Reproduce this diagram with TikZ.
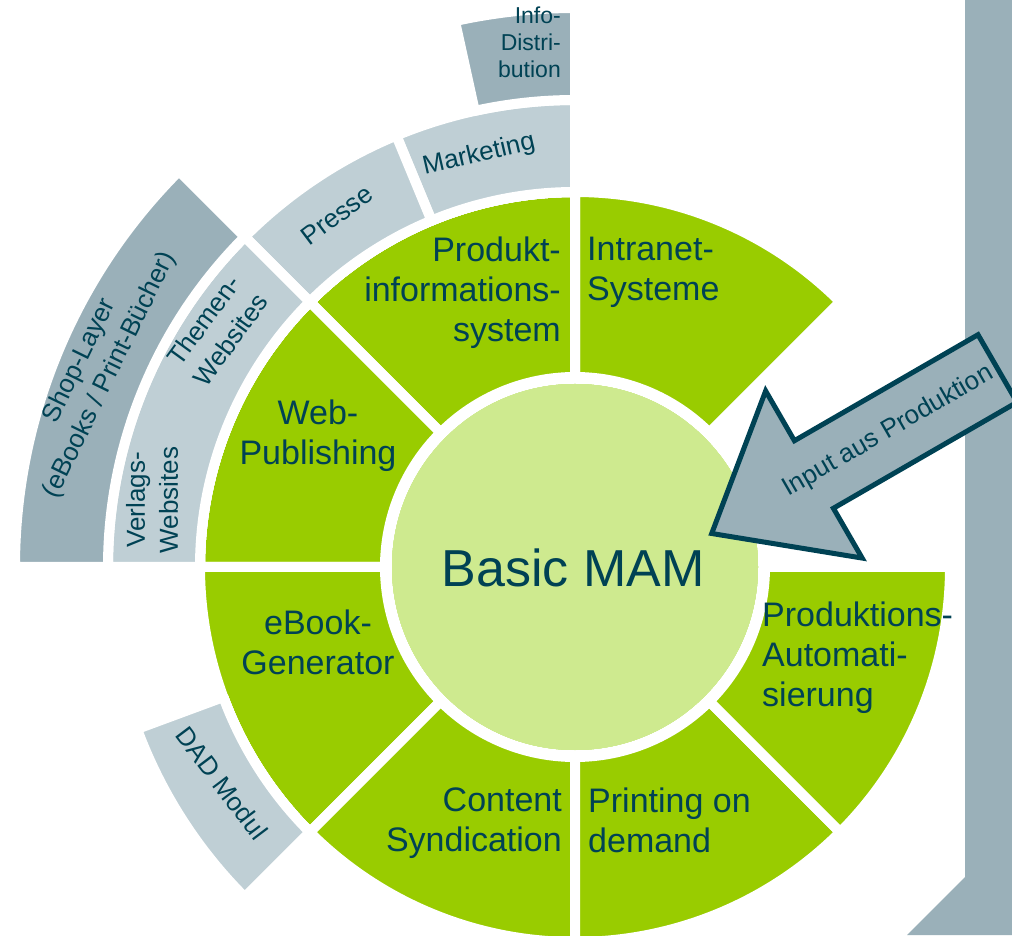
\documentclass[tikz,border=0pt]{standalone}
\usepackage{fontspec}
\setmainfont{Liberation Sans}
\usepackage{tikz}
\usetikzlibrary{calc}
\usetikzlibrary{positioning}
\definecolor{mamgreen}{RGB}{153,204,0}
\definecolor{mamlight}{RGB}{206,234,143}
\definecolor{mamgray}{RGB}{154,176,185}
\definecolor{mampale}{RGB}{191,207,213}
\definecolor{mamtext}{RGB}{0,66,84}
\newcommand{\fs}[2]{\fontsize{#1}{#2}\selectfont}
\newcommand{\ringpart}[5]{% colour, inner, outer, from, to
  \filldraw[part,fill=#1] (#4:#3) arc[start angle=#4,end angle=#5,radius=#3]
    -- (#5:#2) arc[start angle=#5,end angle=#4,radius=#2] -- cycle;}

\begin{document}
\begin{tikzpicture}[x=1pt,y=1pt,
    part/.style={draw=white,line width=10pt,line join=round},
    seglabel/.style={text=mamtext,inner sep=0pt,font=\fs{34}{40}},
    ringlabel/.style={text=mamtext,inner sep=0pt,font=\fs{26}{33},align=center}]
  \useasboundingbox (0,0) rectangle (1012,935);
  \begin{scope}[shift={(575,368)}]
    \foreach \a [evaluate=\a as \b using \a+45] in {45,90,...,315}
      \ringpart{mamgreen}{190}{375}{\a}{\b}
    \ringpart{mampale}{375}{467}{90}{112.5}
    \ringpart{mampale}{375}{467}{112.5}{135}
    \ringpart{mampale}{375}{467}{135}{180}
    \ringpart{mampale}{375}{467}{200.3}{225}
    \ringpart{mamgray}{467}{560}{135}{180}
    \ringpart{mamgray}{467}{559}{90}{102.4}
    \fill[mamlight] (0,0) circle (183);
  \end{scope}
  \fill[mamgray] (965,935) -- (1012,935) -- (1012,0) -- (907,0) -- (965,58) -- cycle;
  \begin{scope}[shift={(997.5,566.5)},rotate=210]
    \filldraw[fill=mamgray,draw=mamtext,line width=5pt] (0,39) -- (212,39) -- (212,96.5)
      -- (330,0) -- (212,-96.5) -- (212,-39) -- (0,-39) -- cycle;
    \node[ringlabel,rotate=30] (input) at (126,0) {Input aus Produktion};
  \end{scope}
  \node[text=mamtext,font=\fs{52}{60}] (mam) at (573,367) {Basic MAM};
  \node[seglabel,anchor=north east,align=right] (prodinfo) at (561,698) {Produkt-\\informations-\\system};
  \node[seglabel,anchor=north west,align=left] (intranet) at (587,698) {Intranet-\\Systeme};
  \node[seglabel,anchor=north,align=center] (webpub) at (318,535) {Web-\\Publishing};
  \node[seglabel,anchor=north,align=center] (ebook) at (318,325) {eBook-\\Generator};
  \node[seglabel,anchor=north east,align=right] (content) at (562,147) {Content\\Syndication};
  \node[seglabel,anchor=north west,align=left] (printing) at (588,147) {Printing on\\demand};
  \node[seglabel,anchor=north west,align=left] (prodauto) at (762,333) {Produktions-\\Automati-\\sierung};
  \node[ringlabel,rotate=13] (marketing) at (479,780) {Marketing};
  \node[ringlabel,rotate=37] (presse) at (337,720) {Presse};
  \node[ringlabel,rotate=54] (themen) at (217,605) {Themen-\\Websites};
  \node[ringlabel,rotate=90] (verlags) at (152,435) {Verlags-\\Websites};
  \node[ringlabel,rotate=64] (shop) at (95,567) {Shop-Layer\\(eBooks / Print-Bücher)};
  \node[ringlabel,rotate=-53] (dad) at (222,152) {DAD Modul};
  \node[ringlabel,font=\fs{23}{27},align=right,anchor=north east] (info) at (561,928) {Info-\\Distri-\\bution};
\end{tikzpicture}
\end{document}
